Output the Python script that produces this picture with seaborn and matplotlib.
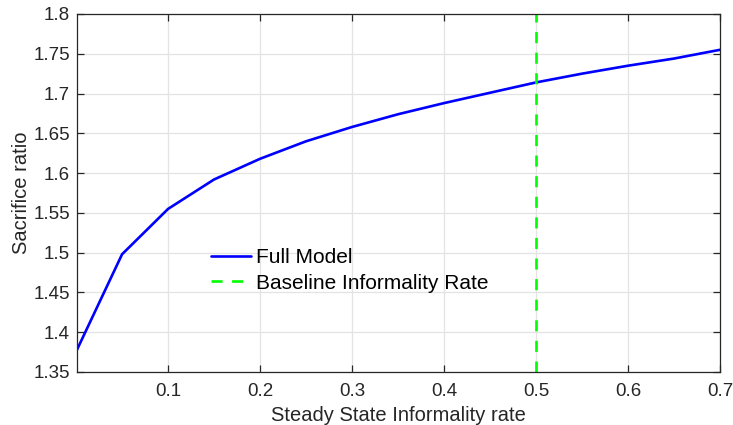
import matplotlib
matplotlib.use("Agg")
import matplotlib.pyplot as plt
import seaborn as sns
import pandas as pd

# Sacrifice ratio as a function of the steady-state informality rate
informality = [0.001, 0.05, 0.10, 0.15, 0.20, 0.25, 0.30, 0.35, 0.40, 0.45,
               0.50, 0.55, 0.60, 0.65, 0.70]
sacrifice = [1.378, 1.498, 1.555, 1.592, 1.618, 1.640, 1.658, 1.674, 1.688, 1.701,
             1.714, 1.725, 1.735, 1.744, 1.755]
baseline_rate = 0.5

x_ticks = [0.1, 0.2, 0.3, 0.4, 0.5, 0.6, 0.7]
x_tick_labels = ["0.1", "0.2", "0.3", "0.4", "0.5", "0.6", "0.7"]
y_ticks = [1.35, 1.4, 1.45, 1.5, 1.55, 1.6, 1.65, 1.7, 1.75, 1.8]
y_tick_labels = ["1.35", "1.4", "1.45", "1.5", "1.55", "1.6", "1.65", "1.7", "1.75", "1.8"]

df = pd.DataFrame({"rate": informality, "ratio": sacrifice})

sns.set_theme(style="white")
plt.rcParams["font.family"] = ["Liberation Sans", "DejaVu Sans"]

axis_color = "#262626"
fig = plt.figure(figsize=(7.33, 4.25), dpi=100)
ax = fig.add_axes([77 / 733, 1 - 372 / 425, (720 - 77) / 733, (372 - 14) / 425])

sns.lineplot(data=df, x="rate", y="ratio", ax=ax, color="#0000ff", linewidth=1.9,
             label="Full Model")
ax.axvline(baseline_rate, color="#00ff00", linewidth=1.9, dashes=(4.2, 3.6),
           label="Baseline Informality Rate")

ax.set_xlim(informality[0], informality[-1])
ax.set_ylim(y_ticks[0], y_ticks[-1])
ax.set_xticks(x_ticks)
ax.set_xticklabels(x_tick_labels)
ax.set_yticks(y_ticks)
ax.set_yticklabels(y_tick_labels)

ax.grid(True, color="#e3e3e3", linewidth=0.9)
ax.set_axisbelow(True)
for side in ["left", "right", "top", "bottom"]:
    ax.spines[side].set_visible(True)
    ax.spines[side].set_color(axis_color)
    ax.spines[side].set_linewidth(0.9)
ax.tick_params(axis="both", which="both", direction="in", length=5, width=0.9,
               color=axis_color, labelcolor=axis_color, labelsize=13.5,
               top=True, right=True, bottom=True, left=True)
ax.tick_params(axis="x", pad=8)
ax.tick_params(axis="y", pad=5)

ax.set_xlabel("Steady State Informality rate", fontsize=14.5, color=axis_color, labelpad=4)
ax.set_ylabel("Sacrifice ratio", fontsize=14.5, color=axis_color, labelpad=2)

leg = ax.legend(loc="center left", bbox_to_anchor=(0.179, 0.2835), frameon=False,
                fontsize=15, handlelength=1.92, handletextpad=0.25, labelspacing=0.3)
for txt in leg.get_texts():
    txt.set_color("black")

fig.savefig("out.png", dpi=100)
